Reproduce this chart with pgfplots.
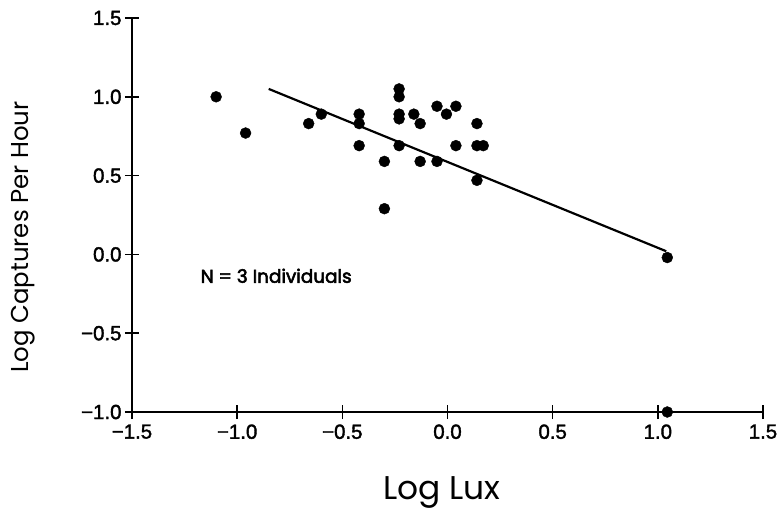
\documentclass[border=0pt]{standalone}
\usepackage{fontspec}
\setmainfont{Liberation Sans}
\newfontfamily\tickfont[FakeBold=1.8]{Liberation Sans}
\newfontfamily\labelfont{Poppins}
\newfontfamily\nfont[FakeBold=3]{Poppins}
\usepackage{pgfplots}
\pgfplotsset{compat=1.18}
\begin{document}
\begin{tikzpicture}
\path[use as bounding box] (-132bp,-99bp) rectangle (649bp,412bp);
\begin{axis}[
  at={(0,0)}, anchor=south west, scale only axis,
  width=631bp, height=394bp,
  xmin=-1.5, xmax=1.5, ymin=-1, ymax=1.5,
  axis x line*=bottom, axis y line*=left,
  axis line style={-, line width=2pt},
  xtick={-1.5,-1,-0.5,0,0.5,1,1.5},
  xticklabels={−1.5,−1.0,−0.5,0.0,0.5,1.0,1.5},
  ytick={-1,-0.5,0,0.5,1,1.5},
  yticklabels={−1.0,−0.5,0.0,0.5,1.0,1.5},
  tick align=center, major tick length=14bp,
  tick style={line width=1.6pt, black},
  tick label style={font=\tickfont\fontsize{20.5}{23}\selectfont},
  xticklabel style={yshift=-2bp},
  xlabel={Log Lux},
  ylabel={Log Captures Per Hour},
  xlabel style={font=\labelfont\fontsize{33}{38}\selectfont, at={(axis description cs:0.491,-0.222)}, anchor=base},
  ylabel style={font=\labelfont\fontsize{24.5}{28}\selectfont, at={(axis description cs:-0.172,0.444)}, anchor=center},
  clip=false,
]
\addplot[only marks, mark=*, mark size=5.5pt, black] coordinates {
(-1.10,1.00) (-0.96,0.77) (-0.66,0.83) (-0.60,0.89)
(-0.42,0.89) (-0.42,0.83) (-0.42,0.69)
(-0.30,0.59) (-0.30,0.29)
(-0.23,1.05) (-0.23,1.00) (-0.23,0.89) (-0.23,0.86) (-0.23,0.69)
(-0.16,0.89) (-0.13,0.83) (-0.13,0.59)
(-0.05,0.94) (-0.005,0.89) (-0.05,0.59)
(0.04,0.94) (0.04,0.69)
(0.14,0.83) (0.14,0.69) (0.17,0.69) (0.14,0.47)
(1.045,-0.02) (1.045,-1.00)
};
\addplot[black, line width=2.2pt] coordinates {(-0.85,1.05) (1.04,0.02)};
\node[anchor=west, font=\nfont\fontsize{18.5}{22}\selectfont] at (axis cs:-1.19,-0.136) {N = 3 Individuals};
\end{axis}
\end{tikzpicture}
\end{document}
